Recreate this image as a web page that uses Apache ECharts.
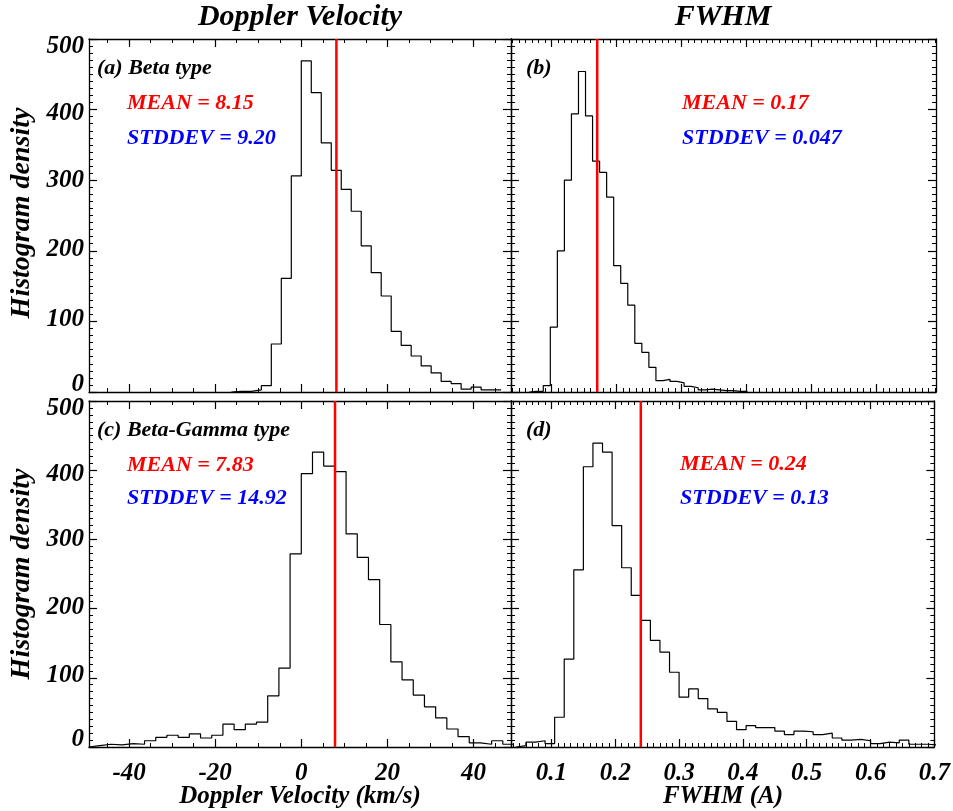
<!DOCTYPE html>
<html><head><meta charset="utf-8">
<script src="https://cdn.jsdelivr.net/npm/echarts@6/dist/echarts.min.js"></script>
<style>html,body{margin:0;padding:0;background:#fff}#c{width:953px;height:811px}</style>
</head><body><div id="c"></div>
<script>
// ---------- data ----------
// (a) Beta type, Doppler velocity histogram
const velBinWidthA = 2.32;
const velFirstEdgeA = -16.24;
const countsA = [1, 1, 3, 9, 68, 161, 306, 469, 424, 353, 314, 287, 256, 207, 169, 136, 86, 66, 51, 37, 27, 15, 12, 4, 7, 3, 3];
// (b) Beta type, FWHM histogram
const fwhmBinWidthB = 0.01083;
const fwhmFirstEdgeB = 0.0654;
const countsB = [1, 1, 9, 92, 200, 300, 394, 454, 391, 327, 311, 276, 179, 154, 123, 69, 56, 35, 16, 18, 15, 13, 8, 6, 3, 4, 3, 2, 2, 1, 1];
// (c) Beta-Gamma type, Doppler velocity histogram
const velBinWidthC = 2.6;
const velFirstEdgeC = -49.4;
const countsC = [2, 4, 3, 5, 4, 9, 14, 17, 14, 19, 13, 17, 33, 25, 33, 36, 74, 114, 279, 395, 426, 406, 398, 308, 274, 242, 177, 123, 97, 75, 58, 42, 26, 15, 6, 4, 9, 4];
// (d) Beta-Gamma type, FWHM histogram
const fwhmBinWidthD = 0.015;
const fwhmFirstEdgeD = 0.045;
const countsD = [2, 7, 9, 5, 43, 127, 256, 405, 439, 426, 320, 259, 219, 183, 154, 137, 108, 72, 84, 70, 55, 50, 37, 25, 31, 28, 28, 23, 18, 23, 22, 18, 20, 13, 10, 11, 9, 5, 7, 6, 10, 4, 4, 3];

const means = [8.15, 0.17, 7.83, 0.24];
const stddevs = ['9.20', '0.047', '14.92', '0.13'];
const meanLabels = ['8.15', '0.17', '7.83', '0.24'];
const panelLabels = ['(a) Beta type', '(b)', '(c) Beta-Gamma type', '(d)'];

const velTicks = [-40, -20, 0, 20, 40];
const velMinorTicks = [-45, -35, -30, -25, -15, -10, -5, 5, 10, 15, 25, 30, 35, 45];
const fwhmTicks = [0.1, 0.2, 0.3, 0.4, 0.5, 0.6, 0.7];
const fwhmTickLabels = ['0.1', '0.2', '0.3', '0.4', '0.5', '0.6', '0.7'];
const fwhmMinorTicks = [];
for (let i = 4; i <= 70; i++) if (i % 10) fwhmMinorTicks.push(i / 100);
const yTicks = [0, 100, 200, 300, 400, 500];

const xRanges = [[-49.3, 48.7], [0.0374, 0.6912], [-49.3, 48.7], [0.0366, 0.7]];
const yRange = [0, 500];

// ---------- layout ----------
const FONT = 'Liberation Serif';
const grids = [
  {left: 89, top: 39, width: 422, height: 353},
  {left: 511, top: 39, width: 425, height: 353},
  {left: 89, top: 401, width: 422, height: 346},
  {left: 511, top: 401, width: 425, height: 346}
];
// vertical nudges of y tick labels (px, + = down), as in the reference
const yLabelShift = {0: -7, 100: -2, 200: -1, 300: 0, 400: 4, 500: 8};

function stepPoints(firstEdge, width, counts) {
  const pts = [[firstEdge, 0]];
  counts.forEach((c, i) => pts.push([firstEdge + i * width, c]));
  pts.push([firstEdge + counts.length * width, counts[counts.length - 1]]);
  return pts;
}
const hists = [
  stepPoints(velFirstEdgeA, velBinWidthA, countsA),
  stepPoints(fwhmFirstEdgeB, fwhmBinWidthB, countsB),
  stepPoints(velFirstEdgeC, velBinWidthC, countsC),
  stepPoints(fwhmFirstEdgeD, fwhmBinWidthD, countsD)
];

const labelStyle = {fontFamily: FONT, fontStyle: 'italic', fontWeight: 'bold', fontSize: 25, color: '#000'};
const rich = {};
yTicks.forEach(v => {
  const s = yLabelShift[v];
  rich['y' + v] = Object.assign({}, labelStyle, {padding: s >= 0 ? [2 * s, 0, 0, 0] : [0, 0, -2 * s, 0]});
});
const xAxes = [], yAxes = [], series = [];
grids.forEach((g, gi) => {
  const isVel = gi % 2 === 0;
  const majors = isVel ? velTicks : fwhmTicks;
  const minors = isVel ? velMinorTicks : fwhmMinorTicks;
  const [mn, mx] = xRanges[gi];
  const inR = v => v >= mn - 1e-9 && v <= mx + 1e-9;
  const base = {type: 'value', gridIndex: gi, min: mn, max: mx, splitLine: {show: false}, axisLine: {show: true, onZero: false, lineStyle: {color: '#000', width: 1.3}}};
  const firstIdx = xAxes.length;
  ['bottom', 'top'].forEach(pos => {
    xAxes.push(Object.assign({}, base, {
      position: pos,
      axisTick: {show: true, inside: true, length: 8, lineStyle: {color: '#000', width: 1.2}, customValues: majors.filter(inR)},
      axisLabel: Object.assign({}, labelStyle, {
        show: pos === 'bottom' && gi >= 2, margin: 14, customValues: majors.filter(inR),
        formatter: v => isVel ? String(Math.round(v)) : fwhmTickLabels[fwhmTicks.indexOf(Math.round(v * 10) / 10)]
      })
    }));
    xAxes.push(Object.assign({}, base, {
      position: pos,
      axisLine: {show: false, onZero: false},
      axisTick: {show: true, inside: true, length: 4, lineStyle: {color: '#000', width: 1}, customValues: minors.filter(inR)},
      axisLabel: {show: false}
    }));
  });
  const yIdx = yAxes.length;
  ['left', 'right'].forEach(pos => {
    yAxes.push({
      type: 'value', gridIndex: gi, position: pos, min: yRange[0], max: yRange[1], interval: 100,
      splitLine: {show: false},
      axisLine: {show: true, onZero: false, lineStyle: {color: '#000', width: 1.3}},
      axisTick: {show: true, inside: true, length: 8, lineStyle: {color: '#000', width: 1.2}},
      minorTick: {show: true, splitNumber: 10, length: 4, lineStyle: {color: '#000', width: 1}},
      axisLabel: Object.assign({}, labelStyle, {
        show: pos === 'left' && gi % 2 === 0, margin: 5,
        formatter: v => '{y' + Math.round(v) + '|' + Math.round(v) + '}', rich: rich
      })
    });
  });
  series.push({
    type: 'line', xAxisIndex: firstIdx, yAxisIndex: yIdx, data: hists[gi], step: 'end',
    showSymbol: false, symbol: 'none', clip: true, silent: true, animation: false,
    lineStyle: {color: '#000', width: 1.2}
  });
  series.push({
    type: 'line', xAxisIndex: firstIdx, yAxisIndex: yIdx, data: [[means[gi], yRange[0]], [means[gi], yRange[1]]],
    showSymbol: false, symbol: 'none', clip: true, silent: true, animation: false,
    lineStyle: {color: '#ff0000', width: 2.5}
  });
});

const txt = (x, y, text, color, size, align, rot) => ({
  type: 'text', x: x, y: y, rotation: rot || 0,
  style: {text: text, fill: color, fontFamily: FONT, fontStyle: 'italic', fontWeight: 'bold', fontSize: size, textAlign: align || 'left', textVerticalAlign: 'middle'}
});
const annPos = [
  {lx: 97, ly: 68, mx: 127, my: 103, sy: 138},
  {lx: 526, ly: 68, mx: 682, my: 103, sy: 138},
  {lx: 97, ly: 430, mx: 127, my: 465, sy: 498},
  {lx: 526, ly: 430, mx: 680, my: 464, sy: 498}
];
const graphics = [];
annPos.forEach((p, i) => {
  graphics.push(txt(p.lx, p.ly, panelLabels[i], '#000', 22));
  graphics.push(txt(p.mx, p.my, 'MEAN = ' + meanLabels[i], '#ff0000', 22));
  graphics.push(txt(p.mx, p.sy, 'STDDEV = ' + stddevs[i], '#0000ff', 22));
});
graphics.push(txt(300, 17, 'Doppler Velocity', '#000', 30, 'center'));
graphics.push(txt(723, 17, 'FWHM', '#000', 30, 'center'));
graphics.push(txt(300, 797, 'Doppler Velocity (km/s)', '#000', 25, 'center'));
graphics.push(txt(723, 797, 'FWHM (A)', '#000', 25, 'center'));
graphics.push(txt(22, 213, 'Histogram density', '#000', 28, 'center', Math.PI / 2));
graphics.push(txt(22, 574, 'Histogram density', '#000', 28, 'center', Math.PI / 2));

const chart = echarts.init(document.getElementById('c'), null, {renderer: 'canvas'});
chart.setOption({
  animation: false,
  backgroundColor: '#fff',
  grid: grids.map(g => Object.assign({show: false, containLabel: false}, g)),
  xAxis: xAxes,
  yAxis: yAxes,
  series: series,
  graphic: graphics
});
</script></body></html>
